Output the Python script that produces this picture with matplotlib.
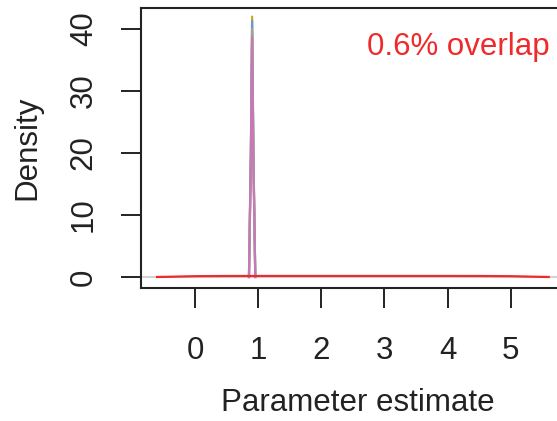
import matplotlib
matplotlib.use("Agg")
import matplotlib.pyplot as plt

# ---------------------------
# DATA
# ---------------------------
# narrow posterior densities, all piled up near 0.9
spike_x = [0.855, 0.885, 0.905, 0.925, 0.955]
spike_gold = [0.0, 20.0, 42.0, 20.0, 0.0]
spike_blue = [0.0, 20.0, 41.3, 20.0, 0.0]
spike_grey = [0.0, 19.0, 40.0, 19.0, 0.0]
spike_pink = [0.0, 19.0, 38.8, 19.0, 0.0]

# broad prior density (almost flat)
prior_x = [-0.6, -0.3, 0.0, 0.5, 1.0, 2.0, 3.0, 4.0, 4.5, 5.0, 5.3, 5.6]
prior_y = [0.0, 0.06, 0.13, 0.16, 0.167, 0.167, 0.167, 0.167, 0.16, 0.13, 0.06, 0.0]

x_ticks = [0, 1, 2, 3, 4, 5]
y_ticks = [0, 10, 20, 30, 40]
overlap_label = "0.6% overlap"

# ---------------------------
# STYLE
# ---------------------------
plt.rcParams["font.family"] = ["Liberation Sans", "DejaVu Sans"]
INK = "#222222"
RED = "#EE2A2A"
FS = 22.5

fig = plt.figure(figsize=(5.57, 4.21), dpi=100)
ax = fig.add_axes([141 / 557, 1 - 288 / 421, (574 - 141) / 557, 280 / 421])

ax.axhline(0, color="#D3D3D3", lw=1.5, zorder=1)

ax.plot(spike_x, spike_gold, color="#C8A82A", lw=1.6, zorder=2)
ax.plot(spike_x, spike_blue, color="#6A9AD0", lw=1.6, zorder=3)
ax.plot(spike_x, spike_grey, color="#98A8A0", lw=1.6, zorder=3)
ax.plot(spike_x, spike_pink, color="#C878B4", lw=1.6, zorder=4)

ax.plot(prior_x, prior_y, color=RED, lw=1.6, zorder=5)

ax.set_xlim(-0.854, 6.0)
ax.set_ylim(-1.774, 43.39)

ax.set_xticks(x_ticks)
ax.set_yticks(y_ticks)
ax.set_yticklabels([str(v) for v in y_ticks], rotation=90, va="center")

for s in ax.spines.values():
    s.set_color(INK)
    s.set_linewidth(1.5)

ax.tick_params(axis="both", direction="out", length=14.4, width=1.4,
               color=INK, labelsize=FS, labelcolor=INK)
ax.tick_params(axis="x", pad=20)
ax.tick_params(axis="y", pad=16)

ax.set_xlabel("Parameter estimate", fontsize=FS, color=INK, labelpad=16)
ax.set_ylabel("Density", fontsize=FS, color=INK, labelpad=19)

ax.text(550 / 557, 1 - 47 / 421, overlap_label, transform=fig.transFigure,
        ha="right", va="center", fontsize=FS, color=RED)

fig.savefig("out.png", dpi=100)
